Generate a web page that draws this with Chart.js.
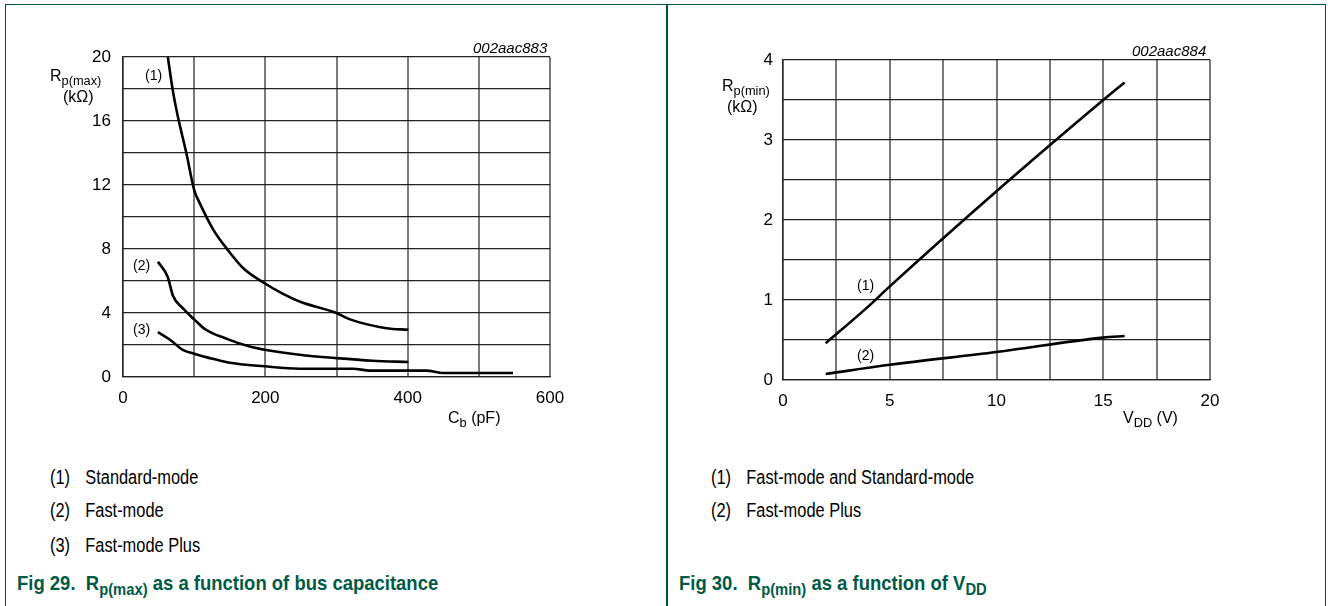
<!DOCTYPE html>
<html>
<head>
<meta charset="utf-8">
<script src="https://cdn.jsdelivr.net/npm/chart.js@4.4.1/dist/chart.umd.min.js"></script>
<style>
  body { margin: 0; width: 1328px; height: 606px; background: #fff; position: relative; overflow: hidden;
         font-family: "Liberation Sans", Arial, sans-serif; color: #000; }
  .frame { position: absolute; left: 5px; top: 4px; width: 1321px; height: 640px;
           border: 1.5px solid #00513f; border-bottom: none; box-sizing: border-box; }
  .divider { position: absolute; left: 666px; top: 4px; width: 1.5px; height: 602px; background: #00513f; }
  canvas { position: absolute; top: 0; }
  .t { position: absolute; white-space: nowrap; line-height: 1; }
  .t sub { font-size: 0.8em; vertical-align: -0.3em; line-height: 0; }
  .code { font-size: 15px; font-style: italic; }
  .curve { font-size: 14px; }
  .ax { font-size: 16px; }
  .leg { font-size: 20px; transform: scaleX(0.82); transform-origin: left center; }
  .leg span { display: inline-block; width: 43px; }
  .cap { font-size: 21px; font-weight: bold; color: #005a46; transform: scaleX(0.88); transform-origin: left center; }
</style>
</head>
<body>
<div class="frame"></div>
<div class="divider"></div>

<canvas id="capChart" width="664" height="430" style="left:0px;width:664px;height:430px"></canvas>
<canvas id="vddChart" width="661" height="430" style="left:667px;width:661px;height:430px"></canvas>

<div class="t code" style="left:473px;top:40px">002aac883</div>
<div class="t ax" style="left:50px;top:68px">R<sub>p(max)</sub></div>
<div class="t ax" style="left:63px;top:89px">(kΩ)</div>
<div class="t ax" style="left:448px;top:410px">C<sub>b</sub> (pF)</div>
<div class="t curve" style="left:145px;top:68px">(1)</div>
<div class="t curve" style="left:133px;top:258px">(2)</div>
<div class="t curve" style="left:133px;top:322px">(3)</div>

<div class="t code" style="left:1132px;top:43px">002aac884</div>
<div class="t ax" style="left:722px;top:78px">R<sub>p(min)</sub></div>
<div class="t ax" style="left:727px;top:99px">(kΩ)</div>
<div class="t ax" style="left:1123px;top:410px">V<sub>DD</sub> (V)</div>
<div class="t curve" style="left:857px;top:278px">(1)</div>
<div class="t curve" style="left:857px;top:348px">(2)</div>

<div class="t leg" style="left:50px;top:467px"><span>(1)</span>Standard-mode</div>
<div class="t leg" style="left:50px;top:500px"><span>(2)</span>Fast-mode</div>
<div class="t leg" style="left:50px;top:535px"><span>(3)</span>Fast-mode Plus</div>
<div class="t cap" style="left:17px;top:572px">Fig 29.&nbsp; R<sub>p(max)</sub> as a function of bus capacitance</div>

<div class="t leg" style="left:711px;top:467px"><span>(1)</span>Fast-mode and Standard-mode</div>
<div class="t leg" style="left:711px;top:500px"><span>(2)</span>Fast-mode Plus</div>
<div class="t cap" style="left:679px;top:572px">Fig 30.&nbsp; R<sub>p(min)</sub> as a function of V<sub>DD</sub></div>

<script>
// Fig 29: Rp(max) vs bus capacitance
const stdCap = [63, 70, 77, 89, 100, 108, 127, 148, 169, 199, 223, 248, 300, 319, 370, 401];
const stdRp = [20, 17.9, 16.3, 14, 11.7, 10.85, 9.2, 7.9, 6.8, 5.86, 5.24, 4.72, 4.0, 3.6, 3.05, 2.95];
const fastCap = [49, 63, 70, 84, 100, 115, 145, 178, 199, 248, 300, 351, 401];
const fastRp = [7.2, 6.24, 5.1, 4.3, 3.6, 3.0, 2.4, 1.9, 1.7, 1.39, 1.18, 1.02, 0.94];
const plusCap = [49, 66, 84, 100, 122, 148, 199, 248, 323, 347, 426, 450, 548];
const plusRp = [2.8, 2.33, 1.7, 1.46, 1.18, 0.91, 0.67, 0.52, 0.52, 0.4, 0.4, 0.25, 0.25];
const capTicks = [0, 200, 400, 600];
const rpMaxTicks = [0, 4, 8, 12, 16, 20];

// Fig 30: Rp(min) vs VDD
const fsVdd = [2, 4, 5, 10, 15, 16];
const fsRp = [0.46, 0.92, 1.17, 2.36, 3.5, 3.72];
const fpVdd = [2, 5, 10, 15, 16];
const fpRp = [0.075, 0.19, 0.35, 0.53, 0.55];
const vddTicks = [0, 5, 10, 15, 20];
const rpMinTicks = [0, 1, 2, 3, 4];

function pts(xs, ys) {
    return xs.map(function (x, i) { return { x: x, y: ys[i] }; });
}

function curve(xs, ys) {
    return {
        data: pts(xs, ys),
        showLine: true,
        borderColor: "#000",
        borderWidth: 2.6,
        pointRadius: 0,
        cubicInterpolationMode: "monotone",
    };
}

const tickFont = { family: "'Liberation Sans', Arial, sans-serif", size: 17 };

function makeChart(id, datasets, xr, yr, pad, yWidth) {
    new Chart(document.getElementById(id).getContext("2d"), {
        type: "scatter",
        data: { datasets: datasets },
        options: {
            responsive: false,
            animation: false,
            layout: { padding: pad },
            plugins: { legend: { display: false }, tooltip: { enabled: false } },
            scales: {
                x: {
                    type: "linear",
                    min: xr.min, max: xr.max,
                    afterFit: function (s) { s.height = 30; },
                    border: { color: "#222", width: 1.2 },
                    grid: { color: "#7a7a7a", lineWidth: 2, drawTicks: false },
                    ticks: {
                        stepSize: xr.step, color: "#000", font: tickFont, padding: 11, maxRotation: 0,
                        autoSkip: false,
                        callback: function (v) { return xr.labels.includes(v) ? String(v) : ""; },
                    },
                },
                y: {
                    type: "linear",
                    min: yr.min, max: yr.max,
                    afterFit: function (s) { s.width = yWidth; },
                    border: { color: "#222", width: 1.2 },
                    grid: { color: "#222", lineWidth: 1.2, drawTicks: false },
                    ticks: {
                        stepSize: yr.step, color: "#000", font: tickFont, padding: yr.pad,
                        autoSkip: false,
                        callback: function (v) { return yr.labels.includes(v) ? String(v) : ""; },
                    },
                },
            },
        },
    });
}

makeChart(
    "capChart",
    [curve(stdCap, stdRp), curve(fastCap, fastRp), curve(plusCap, plusRp)],
    { min: 0, max: 600, step: 100, labels: capTicks },
    { min: 0, max: 20, step: 2, labels: rpMaxTicks, pad: 12 },
    { top: 57, right: 114, bottom: 23, left: 0 },
    123
);

makeChart(
    "vddChart",
    [curve(fsVdd, fsRp), curve(fpVdd, fpRp)],
    { min: 0, max: 20, step: 2.5, labels: vddTicks },
    { min: 0, max: 4, step: 0.5, labels: rpMinTicks, pad: 10 },
    { top: 60, right: 118, bottom: 20, left: 0 },
    116
);
</script>
</body>
</html>
